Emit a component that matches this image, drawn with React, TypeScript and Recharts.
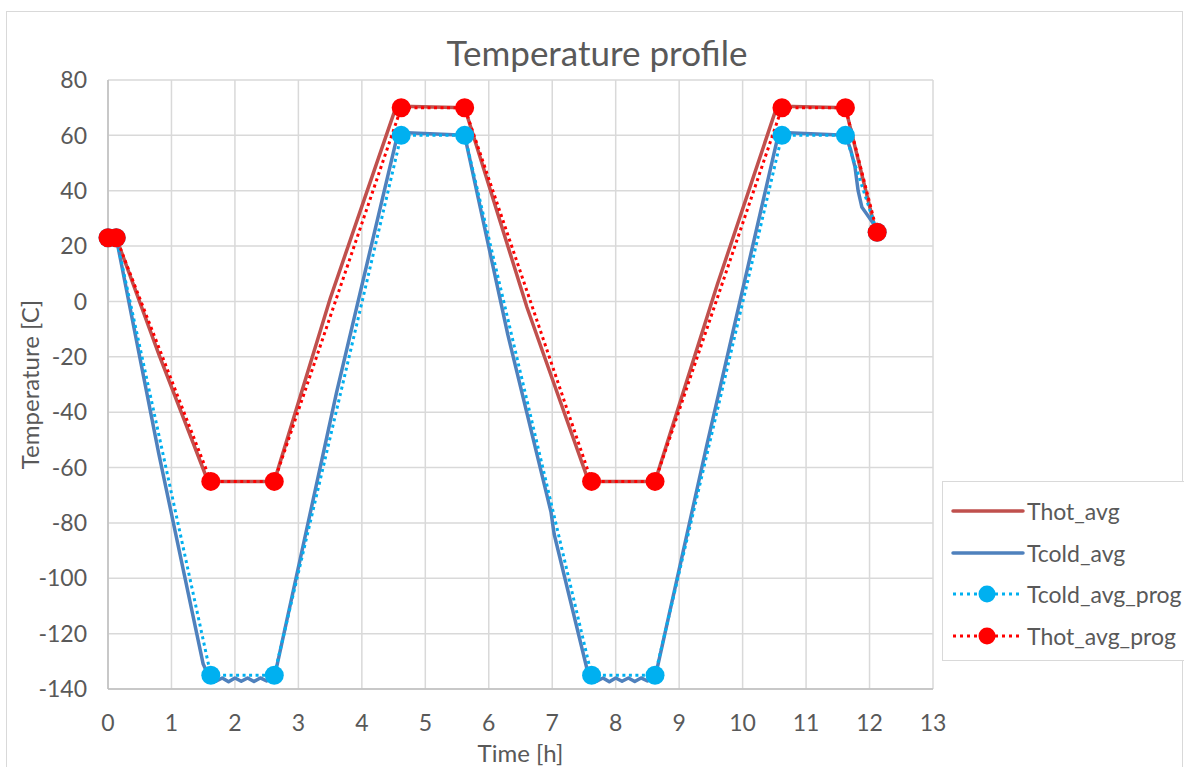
import {
  CartesianGrid,
  Customized,
  Legend,
  Line,
  LineChart,
  XAxis,
  YAxis,
} from "recharts";

const HOT = "#C0504D";
const COLD = "#4F81BD";
const COLD_PROG = "#00B0F0";
const HOT_PROG = "#FF0000";
const TEXT = "#595959";
const GRID = "#D9D9D9";
const FONT = "Lato, 'Open Sans', sans-serif";

// programmed set points (time in h, temperature in C)
const progTime = [0, 0.13, 1.62, 2.62, 4.62, 5.62, 7.62, 8.62, 10.62, 11.62, 12.12];
const hotProgTemp = [23, 23, -65, -65, 70, 70, -65, -65, 70, 70, 25];
const coldProgTemp = [23, 23, -135, -135, 60, 60, -135, -135, 60, 60, 25];

// measured averages
const hotAvgTime = [0, 0.13, 0.8, 1.55, 1.62, 2.62, 3.5, 4.52, 4.62, 5.62, 6.6, 7.55, 7.62, 8.62, 9.6, 10.52, 10.62, 11.62, 12.08];
const hotAvgTemp = [23, 23, -19, -63.5, -65, -65, 1, 69, 70.5, 70, -2, -63.5, -65, -65, 6, 69, 70.5, 70, 27];

const coldAvgTime = [
  0, 0.13, 0.8, 1.5, 1.6, 1.7, 1.8, 1.9, 2.0, 2.1, 2.2, 2.3, 2.4, 2.5, 2.62,
  3.6, 4.55, 4.62, 5.62, 6.3, 6.98, 7.03, 7.55, 7.62, 7.7, 7.8, 7.9, 8.0, 8.1,
  8.2, 8.3, 8.4, 8.5, 8.62, 9.43, 10.55, 10.62, 11.62, 11.7, 11.77, 11.82, 11.88,
  11.95, 12.06, 12.12,
];
const coldAvgTemp = [
  23, 23, -55, -131, -136, -137.2, -136, -137.4, -136, -137.2, -136, -137.3, -136, -137.1, -136,
  -33, 59, 61, 60, -12, -76, -84, -133, -136, -137.2, -136, -137.4, -136, -137.2,
  -136, -137.3, -136, -137.1, -136, -52.5, 59, 61, 60, 55, 48.7, 40, 34,
  31.8, 28.2, 25,
];

const xTicks = [0, 1, 2, 3, 4, 5, 6, 7, 8, 9, 10, 11, 12, 13];
const yTicks = [-140, -120, -100, -80, -60, -40, -20, 0, 20, 40, 60, 80];

const zip = (t: number[], v: number[]) => t.map((x, i) => ({ t: x, v: v[i] }));

const hotAvg = zip(hotAvgTime, hotAvgTemp);
const coldAvg = zip(coldAvgTime, coldAvgTemp);
const coldProg = zip(progTime, coldProgTemp);
const hotProg = zip(progTime, hotProgTemp);

const SERIES = [
  { name: "Thot_avg", color: HOT, dotted: false },
  { name: "Tcold_avg", color: COLD, dotted: false },
  { name: "Tcold_avg_prog", color: COLD_PROG, dotted: true },
  { name: "Thot_avg_prog", color: HOT_PROG, dotted: true },
];

function LegendBox() {
  return (
    <div
      style={{
        border: `1.5px solid ${GRID}`,
        background: "#fff",
        boxSizing: "border-box",
        width: 260,
        height: 180,
        paddingTop: 8,
        fontFamily: FONT,
        fontSize: 23,
        color: TEXT,
      }}
    >
      {SERIES.map((s) => (
        <div key={s.name} style={{ display: "flex", alignItems: "center", height: 41.7 }}>
          <svg width={80} height={20} style={{ marginLeft: 8 }}>
            {s.dotted ? (
              <>
                <line x1={2} y1={10} x2={72} y2={10} stroke={s.color} strokeWidth={3} strokeDasharray="3 4" />
                <circle cx={36} cy={10} r={8.5} fill={s.color} />
              </>
            ) : (
              <line x1={2} y1={10} x2={72} y2={10} stroke={s.color} strokeWidth={3.5} strokeLinecap="round" />
            )}
          </svg>
          <span style={{ marginLeft: -4 }}>{s.name}</span>
        </div>
      ))}
    </div>
  );
}

export default function App() {
  return (
    <div style={{ position: "absolute", left: 0, top: 0, width: 1184, height: 767, overflow: "hidden", background: "#fff" }}>
      <div
        style={{
          position: "absolute",
          left: 6,
          top: 11,
          width: 1177,
          height: 800,
          border: `1.5px solid ${GRID}`,
          boxSizing: "border-box",
        }}
      />
      <LineChart
        width={1184}
        height={767}
        margin={{ top: 80, right: 251, bottom: 0, left: 0 }}
        style={{ position: "absolute", left: 0, top: 0 }}
      >
        <CartesianGrid stroke={GRID} strokeWidth={1.5} />
        <XAxis
          type="number"
          dataKey="t"
          domain={[0, 13]}
          ticks={xTicks}
          interval={0}
          height={78}
          tickLine={false}
          tickSize={0}
          tickMargin={26}
          axisLine={{ stroke: "#BFBFBF", strokeWidth: 1.5 }}
          tick={{ fill: TEXT, fontSize: 23, fontFamily: FONT }}
          label={{ value: "Time [h]", position: "center", dy: 25, fill: TEXT, fontSize: 24, fontFamily: FONT }}
          allowDuplicatedCategory={false}
        />
        <YAxis
          type="number"
          dataKey="v"
          domain={[-140, 80]}
          ticks={yTicks}
          interval={0}
          width={108}
          tickLine={false}
          tickSize={0}
          tickMargin={21}
          axisLine={{ stroke: "#BFBFBF", strokeWidth: 1.5 }}
          tick={{ fill: TEXT, fontSize: 23, fontFamily: FONT }}
          label={{ value: "Temperature [C]", angle: -90, position: "center", dx: -24, fill: TEXT, fontSize: 24, fontFamily: FONT }}
        />
        <Legend
          layout="horizontal"
          verticalAlign="middle"
          align="center"
          content={() => <LegendBox />}
          wrapperStyle={{ left: 942, top: 481, width: 260, height: 180 }}
        />
        <Line
          data={hotAvg}
          dataKey="v"
          name="Thot_avg"
          stroke={HOT}
          strokeWidth={3.5}
          dot={false}
          activeDot={false}
          isAnimationActive={false}
        />
        <Line
          data={coldAvg}
          dataKey="v"
          name="Tcold_avg"
          stroke={COLD}
          strokeWidth={3.5}
          strokeLinejoin="round"
          dot={false}
          activeDot={false}
          isAnimationActive={false}
        />
        <Line
          data={coldProg}
          dataKey="v"
          name="Tcold_avg_prog"
          stroke={COLD_PROG}
          strokeWidth={3}
          strokeDasharray="3 3.5"
          dot={{ r: 9.5, fill: COLD_PROG, stroke: "none" }}
          activeDot={false}
          isAnimationActive={false}
        />
        <Line
          data={hotProg}
          dataKey="v"
          name="Thot_avg_prog"
          stroke={HOT_PROG}
          strokeWidth={3}
          strokeDasharray="3 3.5"
          dot={{ r: 9.5, fill: HOT_PROG, stroke: "none" }}
          activeDot={false}
          isAnimationActive={false}
        />
        <Customized
          component={() => (
            <text x={597} y={66} textAnchor="middle" fill={TEXT} fontSize={35} fontFamily={FONT}>
              Temperature profile
            </text>
          )}
        />
      </LineChart>
    </div>
  );
}
